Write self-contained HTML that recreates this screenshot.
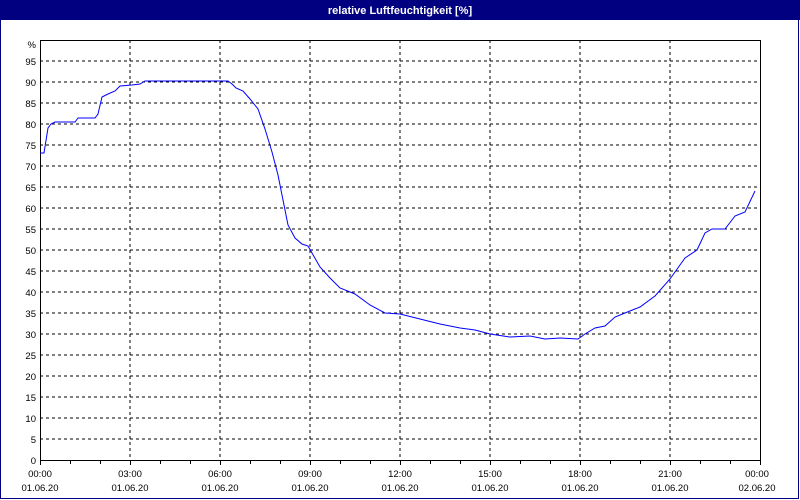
<!DOCTYPE html>
<html><head><meta charset="utf-8"><style>
body{margin:0;background:#fff;}
svg{display:block;font-family:"Liberation Sans",sans-serif;}
</style></head><body>
<svg width="800" height="500" xmlns="http://www.w3.org/2000/svg">
<rect x="0" y="0" width="800" height="500" fill="#fff"/>
<rect x="0" y="0" width="800" height="20" fill="#000080"/>
<rect x="0.5" y="0.5" width="798" height="498" fill="none" stroke="#000080" stroke-width="1"/>
<text x="400" y="14" fill="#fff" font-size="11" font-weight="bold" text-anchor="middle">relative Luftfeuchtigkeit [%]</text>
<g stroke="#000" stroke-width="1" stroke-dasharray="3,3" shape-rendering="crispEdges">
<line x1="40" x2="760" y1="61" y2="61"/><line x1="40" x2="760" y1="82" y2="82"/><line x1="40" x2="760" y1="103" y2="103"/><line x1="40" x2="760" y1="124" y2="124"/><line x1="40" x2="760" y1="145" y2="145"/><line x1="40" x2="760" y1="166" y2="166"/><line x1="40" x2="760" y1="187" y2="187"/><line x1="40" x2="760" y1="208" y2="208"/><line x1="40" x2="760" y1="229" y2="229"/><line x1="40" x2="760" y1="250" y2="250"/><line x1="40" x2="760" y1="271" y2="271"/><line x1="40" x2="760" y1="292" y2="292"/><line x1="40" x2="760" y1="313" y2="313"/><line x1="40" x2="760" y1="334" y2="334"/><line x1="40" x2="760" y1="355" y2="355"/><line x1="40" x2="760" y1="376" y2="376"/><line x1="40" x2="760" y1="397" y2="397"/><line x1="40" x2="760" y1="418" y2="418"/><line x1="40" x2="760" y1="439" y2="439"/>
<line x1="130" x2="130" y1="40" y2="460"/><line x1="220" x2="220" y1="40" y2="460"/><line x1="310" x2="310" y1="40" y2="460"/><line x1="400" x2="400" y1="40" y2="460"/><line x1="490" x2="490" y1="40" y2="460"/><line x1="580" x2="580" y1="40" y2="460"/><line x1="670" x2="670" y1="40" y2="460"/>
</g>
<rect x="40.5" y="40.5" width="720" height="420" fill="none" stroke="#000" stroke-width="1" shape-rendering="crispEdges"/>
<g stroke="#000" shape-rendering="crispEdges">
<line x1="40.5" x2="40.5" y1="460" y2="465"/><line x1="70.5" x2="70.5" y1="460" y2="464"/><line x1="100.5" x2="100.5" y1="460" y2="464"/><line x1="130.5" x2="130.5" y1="460" y2="465"/><line x1="160.5" x2="160.5" y1="460" y2="464"/><line x1="190.5" x2="190.5" y1="460" y2="464"/><line x1="220.5" x2="220.5" y1="460" y2="465"/><line x1="250.5" x2="250.5" y1="460" y2="464"/><line x1="280.5" x2="280.5" y1="460" y2="464"/><line x1="310.5" x2="310.5" y1="460" y2="465"/><line x1="340.5" x2="340.5" y1="460" y2="464"/><line x1="370.5" x2="370.5" y1="460" y2="464"/><line x1="400.5" x2="400.5" y1="460" y2="465"/><line x1="430.5" x2="430.5" y1="460" y2="464"/><line x1="460.5" x2="460.5" y1="460" y2="464"/><line x1="490.5" x2="490.5" y1="460" y2="465"/><line x1="520.5" x2="520.5" y1="460" y2="464"/><line x1="550.5" x2="550.5" y1="460" y2="464"/><line x1="580.5" x2="580.5" y1="460" y2="465"/><line x1="610.5" x2="610.5" y1="460" y2="464"/><line x1="640.5" x2="640.5" y1="460" y2="464"/><line x1="670.5" x2="670.5" y1="460" y2="465"/><line x1="700.5" x2="700.5" y1="460" y2="464"/><line x1="730.5" x2="730.5" y1="460" y2="464"/><line x1="760.5" x2="760.5" y1="460" y2="465"/>
</g>
<g font-size="9.5" fill="#000" text-anchor="end">
<text x="36" y="48">%</text><text x="36" y="65">95</text><text x="36" y="86">90</text><text x="36" y="107">85</text><text x="36" y="128">80</text><text x="36" y="149">75</text><text x="36" y="170">70</text><text x="36" y="191">65</text><text x="36" y="212">60</text><text x="36" y="233">55</text><text x="36" y="254">50</text><text x="36" y="275">45</text><text x="36" y="296">40</text><text x="36" y="317">35</text><text x="36" y="338">30</text><text x="36" y="359">25</text><text x="36" y="380">20</text><text x="36" y="401">15</text><text x="36" y="422">10</text><text x="36" y="443">5</text><text x="36" y="464">0</text>
</g>
<g font-size="9.5" fill="#000" text-anchor="middle">
<text x="40" y="477">00:00</text><text x="40" y="491">01.06.20</text>
<text x="130" y="477">03:00</text><text x="130" y="491">01.06.20</text>
<text x="220" y="477">06:00</text><text x="220" y="491">01.06.20</text>
<text x="310" y="477">09:00</text><text x="310" y="491">01.06.20</text>
<text x="400" y="477">12:00</text><text x="400" y="491">01.06.20</text>
<text x="490" y="477">15:00</text><text x="490" y="491">01.06.20</text>
<text x="580" y="477">18:00</text><text x="580" y="491">01.06.20</text>
<text x="670" y="477">21:00</text><text x="670" y="491">01.06.20</text>
<text x="757" y="477">00:00</text><text x="757" y="491">02.06.20</text>
</g>
<polyline fill="none" stroke="#0000ff" stroke-width="1" points="40,153 44,153 48,128 51,124 55,122 75,122 78,118 95,118 98,114 102,97 108,94 115,91 120,86 132,85 140,84 145,81 228,81 232,84 236,88 243,91 250,99 258,109 265,129 272,152 278,175 283,200 288,225 295,238 302,244 308,246 312,253 320,267 330,278 340,288 355,294 370,305 385,313 400,314 420,319 440,324 460,328 475,330 490,334 510,337 530,336 545,339 560,338 578,339 585,334 595,328 605,326 615,317 625,313 640,307 655,296 670,279 685,258 697,250 705,233 712,229 725,229 735,216 745,212 755,191"/>
</svg>
</body></html>
